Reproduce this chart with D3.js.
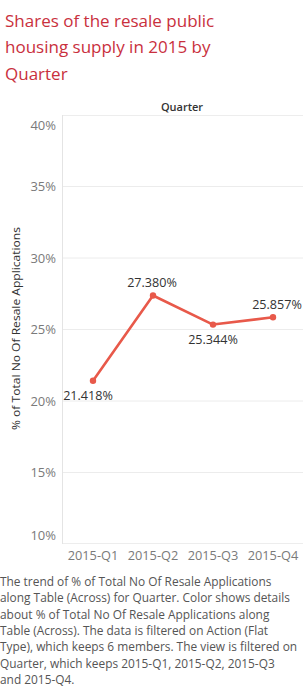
<!DOCTYPE html>
<html>
<head>
<meta charset="utf-8">
<script src="https://cdn.jsdelivr.net/npm/d3@7"></script>
<style>
  body { margin: 0; background: #fff; }
  svg { display: block; font-family: "Open Sans", sans-serif; }
</style>
</head>
<body>
<script>
// chart data
const quarters = ["2015-Q1", "2015-Q2", "2015-Q3", "2015-Q4"];
const shares = [21.418, 27.380, 25.344, 25.857];
const yTicks = [10, 15, 20, 25, 30, 35, 40];
const titleLines = ["Shares of the resale public", "housing supply in 2015 by", "Quarter"];
const captionLines = [
  "The trend of % of Total No Of Resale Applications",
  "along Table (Across) for Quarter.  Color shows details",
  "about % of Total No Of Resale Applications along",
  "Table (Across). The data is filtered on Action (Flat",
  "Type), which keeps 6 members. The view is filtered on",
  "Quarter, which keeps 2015-Q1, 2015-Q2, 2015-Q3",
  "and 2015-Q4."
];

const width = 303, height = 691;
const svg = d3.select("body").append("svg")
  .attr("width", width).attr("height", height);

// title
svg.append("g").selectAll("text").data(titleLines).enter().append("text")
  .attr("x", 5)
  .attr("y", function(d, i){ return 27 + i * 26.3; })
  .attr("font-size", 17)
  .attr("fill", "#c9303d")
  .text(function(d){ return d; });

// plot area
const plotLeft = 63, plotRight = 303, plotTop = 115, plotBottom = 544;
const x = d3.scaleBand().domain(quarters).range([plotLeft, plotRight]);
const y = d3.scaleLinear().domain([10, 40]).range([plotBottom, plotTop]);

// header
svg.append("text")
  .attr("x", (plotLeft + plotRight) / 2 - 1).attr("y", 111)
  .attr("text-anchor", "middle")
  .attr("font-size", 11).attr("font-weight", 600).attr("fill", "#333")
  .text("Quarter");

// gridlines
svg.append("g").selectAll("line").data(yTicks.slice(1, -1)).enter().append("line")
  .attr("x1", plotLeft).attr("x2", plotRight)
  .attr("y1", function(d){ return y(d); }).attr("y2", function(d){ return y(d); })
  .attr("stroke", "#ececec").attr("stroke-width", 1);

// frame lines
svg.append("line").attr("x1", plotLeft).attr("x2", plotRight).attr("y1", plotTop + 0.5).attr("y2", plotTop + 0.5)
  .attr("stroke", "#ededed");
svg.append("line").attr("x1", plotLeft).attr("x2", plotRight).attr("y1", plotBottom - 0.5).attr("y2", plotBottom - 0.5)
  .attr("stroke", "#ededed");
svg.append("line").attr("x1", plotLeft - 0.5).attr("x2", plotLeft - 0.5).attr("y1", plotTop).attr("y2", plotBottom)
  .attr("stroke", "#e4e4e4");

// y axis labels (end labels nudged inside like the original)
svg.append("g").selectAll("text").data(yTicks).enter().append("text")
  .attr("x", 56)
  .attr("y", function(d){
    let p = y(d);
    if (d === 40) p += 10;
    if (d === 10) p -= 9;
    return p + 4.5;
  })
  .attr("text-anchor", "end")
  .attr("font-size", 13).attr("fill", "#7a7a7a")
  .text(function(d){ return d + "%"; });

// y axis title
svg.append("text")
  .attr("transform", "translate(20," + ((plotTop + plotBottom) / 2 - 1) + ") rotate(-90)")
  .attr("text-anchor", "middle")
  .attr("font-size", 11.3).attr("fill", "#333")
  .attr("textLength", 203).attr("lengthAdjust", "spacingAndGlyphs")
  .text("% of Total No Of Resale Applications");

// x axis labels
svg.append("g").selectAll("text").data(quarters).enter().append("text")
  .attr("x", function(d){ return x(d) + x.bandwidth() / 2; })
  .attr("y", 560)
  .attr("text-anchor", "middle")
  .attr("font-size", 12.8).attr("fill", "#7a7a7a")
  .text(function(d){ return d; });

// line + points
const cx = function(d, i){ return x(quarters[i]) + x.bandwidth() / 2; };
const line = d3.line().x(cx).y(function(d){ return y(d); });
svg.append("path").datum(shares)
  .attr("d", line)
  .attr("fill", "none").attr("stroke", "#e8594a").attr("stroke-width", 2.6)
  .attr("stroke-linejoin", "round");
svg.append("g").selectAll("circle").data(shares).enter().append("circle")
  .attr("cx", cx).attr("cy", function(d){ return y(d); })
  .attr("r", 3.2).attr("fill", "#e8594a");

// point labels: below for Q1 and Q3, above for Q2 and Q4
const below = [true, false, true, false];
const dx = [-5, -1, 0, 4];
svg.append("g").selectAll("text").data(shares).enter().append("text")
  .attr("x", function(d, i){ return cx(d, i) + dx[i]; })
  .attr("y", function(d, i){ return y(d) + (below[i] ? 19 : -8); })
  .attr("text-anchor", "middle")
  .attr("font-size", 12.6).attr("fill", "#333")
  .text(function(d){ return d.toFixed(3) + "%"; });

// caption
svg.append("g").selectAll("text").data(captionLines).enter().append("text")
  .attr("x", 0)
  .attr("y", function(d, i){ return 586 + i * 16.3; })
  .attr("font-size", 11.9).attr("fill", "#555")
  .text(function(d){ return d; });
</script>
</body>
</html>
